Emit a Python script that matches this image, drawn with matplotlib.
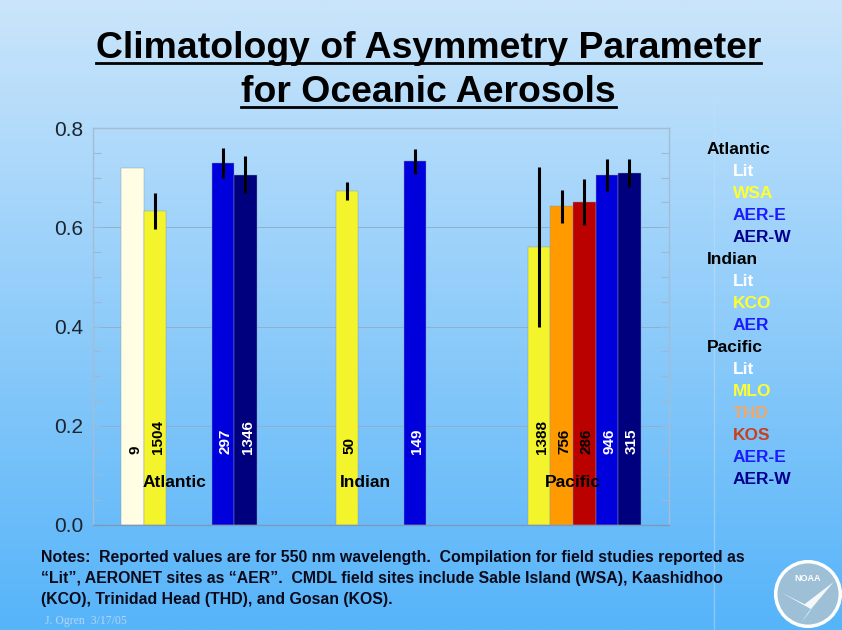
import numpy as np
import matplotlib
matplotlib.use('Agg')
import matplotlib.pyplot as plt
from matplotlib.patches import Circle, Polygon
from matplotlib.lines import Line2D
from matplotlib.ticker import MultipleLocator

plt.rcParams['font.family'] = ['Liberation Sans', 'DejaVu Sans']

nan = np.nan

# data
categories = ['Atlantic', 'Indian', 'Pacific']
series_names = ['Lit', 'CMDL', 'THD', 'KOS', 'AER-E', 'AER-W']
lit_vals = [0.720, nan, nan]
cmdl_vals = [0.633, 0.673, 0.560]   # WSA / KCO / MLO
thd_vals = [nan, nan, 0.642]
kos_vals = [nan, nan, 0.651]
aere_vals = [0.729, 0.733, 0.706]
aerw_vals = [0.706, nan, 0.710]

lit_err = [nan, nan, nan]
cmdl_err = [0.037, 0.018, 0.161]
thd_err = [nan, nan, 0.033]
kos_err = [nan, nan, 0.047]
aere_err = [0.030, 0.025, 0.032]
aerw_err = [0.037, nan, 0.028]

lit_n = ['9', '', '']
cmdl_n = ['1504', '50', '1388']
thd_n = ['', '', '756']
kos_n = ['', '', '286']
aere_n = ['297', '149', '946']
aerw_n = ['1346', '', '315']

yticks = [0.0, 0.2, 0.4, 0.6, 0.8]

legend_items = [
    ('Atlantic', 'black', 0), ('Lit', 'white', 1), ('WSA', '#ffff30', 1),
    ('AER-E', '#1c1cff', 1), ('AER-W', '#000090', 1),
    ('Indian', 'black', 0), ('Lit', 'white', 1), ('KCO', '#ffff30', 1),
    ('AER', '#1c1cff', 1),
    ('Pacific', 'black', 0), ('Lit', 'white', 1), ('MLO', '#ffff30', 1),
    ('THD', '#f0a868', 1), ('KOS', '#c8401c', 1), ('AER-E', '#1c1cff', 1),
    ('AER-W', '#000090', 1),
]

notes = [
    'Notes:  Reported values are for 550 nm wavelength.  Compilation for field studies reported as',
    '\u201cLit\u201d, AERONET sites as \u201cAER\u201d.  CMDL field sites include Sable Island (WSA), Kaashidhoo',
    '(KCO), Trinidad Head (THD), and Gosan (KOS).',
]

vals = [lit_vals, cmdl_vals, thd_vals, kos_vals, aere_vals, aerw_vals]
errs = [lit_err, cmdl_err, thd_err, kos_err, aere_err, aerw_err]
counts = [lit_n, cmdl_n, thd_n, kos_n, aere_n, aerw_n]
bar_colors = ['#fffde3', '#f4f42c', '#ff9a00', '#bb0000', '#0000dd', '#00007f']
count_colors = ['black', 'black', 'black', 'black', 'white', 'white']

W, H = 842, 630
fig = plt.figure(figsize=(W / 100, H / 100), dpi=100)

def fx(x):
    return x / W

def fy(y):
    return 1 - y / H

# gradient background
bg = fig.add_axes([0, 0, 1, 1])
top = np.array([202, 229, 251]) / 255
bot = np.array([86, 180, 249]) / 255
t = np.linspace(0, 1, 256)[:, None]
grad = top[None, :] * (1 - t) + bot[None, :] * t
bg.imshow(grad[:, None, :], aspect='auto', extent=[0, 1, 0, 1])
bg.set_axis_off()

ax = fig.add_axes([fx(93), 1 - 525 / H, (669 - 93) / W, (525 - 128) / H])
ax.patch.set_alpha(0)

w = 0.1172
xc = np.arange(len(categories))
for i in range(len(series_names)):
    x = xc + (i - 2.5) * w
    ax.bar(x, vals[i], w, color=bar_colors[i], edgecolor='#8899aa',
           linewidth=0.3, zorder=2)
    ax.errorbar(x, vals[i], yerr=errs[i], fmt='none', ecolor='black',
                elinewidth=2.2, capsize=0, zorder=3)
    for j in range(len(categories)):
        if counts[i][j]:
            ax.text(x[j] + 0.012, 0.143, counts[i][j], rotation=90,
                    ha='center', va='bottom', fontsize=11, fontweight='bold',
                    color=count_colors[i], zorder=4)

cat_offsets = [-0.077, -0.082, 0.0]
for j, c in enumerate(categories):
    ax.text(xc[j] + cat_offsets[j], 0.085, c, ha='center', va='center',
            fontsize=12.5, fontweight='bold', color='black', zorder=5)

ax.set_xlim(-0.5, 2.5)
ax.set_ylim(0, 0.8)
ax.set_xticks([])
ax.set_yticks(yticks)
ax.set_yticklabels(['%.1f' % v for v in yticks], fontsize=15, color='#1c2430')
ax.yaxis.set_minor_locator(MultipleLocator(0.05))
ax.tick_params(axis='y', which='both', direction='in', length=6,
               color='#9cb8d4', width=0.8, right=True, pad=7)
ax.grid(axis='y', which='major', color='#94aecb', linewidth=0.7, zorder=0)
ax.set_axisbelow(True)
for s in ax.spines.values():
    s.set_color('#a4bcd4')
    s.set_linewidth(1)
ax.spines['bottom'].set_color('#7d98b8')

# title with underline
title_lines = ['Climatology of Asymmetry Parameter', 'for Oceanic Aerosols']
title_base = [58, 102]
tobjs = []
for s, yb in zip(title_lines, title_base):
    tobjs.append(fig.text(fx(428.5), fy(yb), s, ha='center', va='baseline',
                          fontsize=26.9, fontweight='bold', color='black'))
fig.canvas.draw()
r = fig.canvas.get_renderer()
for tobj, yb in zip(tobjs, title_base):
    bb = tobj.get_window_extent(r)
    fig.add_artist(Line2D([bb.x0 / W, bb.x1 / W], [fy(yb + 5), fy(yb + 5)],
                          transform=fig.transFigure, color='black', lw=2))

# faint separator line
fig.add_artist(Line2D([fx(714), fx(714)], [fy(98), 0], transform=fig.transFigure,
                      color='#c8e0f4', lw=1, alpha=0.45))

# side legend
for k, (s, c, ind) in enumerate(legend_items):
    fig.text(fx(707 if ind == 0 else 732.5), fy(150 + k * 21.95), s,
             ha='left', va='center', fontsize=12.5, fontweight='bold', color=c)

# notes
for k, s in enumerate(notes):
    fig.text(fx(41), fy(562 + k * 21), s, ha='left', va='baseline',
             fontsize=11.4, fontweight='bold', color='#0a0a1a')
fig.text(fx(45), fy(624), 'J. Ogren  3/17/05', ha='left', va='baseline',
         fontsize=8.5, family='Liberation Serif', color='#b4d6f4')

# simple NOAA logo
lg = fig.add_axes([fx(774), 1 - 628 / H, 68 / W, 68 / H])
lg.set_xlim(-1, 1)
lg.set_ylim(-1, 1)
lg.set_aspect('equal')
lg.set_axis_off()
lg.add_patch(Circle((0, 0), 0.95, facecolor='#9dc0d6', edgecolor='white', lw=2.5))
lg.add_patch(Polygon([[-0.8, 0.05], [-0.1, -0.3], [0.75, 0.35], [0.0, -0.55],
                      [-0.2, -0.85], [0.1, -0.45]], closed=True,
                     facecolor='white', edgecolor='none', alpha=0.9))
lg.text(0, 0.45, 'NOAA', ha='center', va='center', fontsize=6.5,
        fontweight='bold', color='white')

fig.savefig('out.png', dpi=100)
